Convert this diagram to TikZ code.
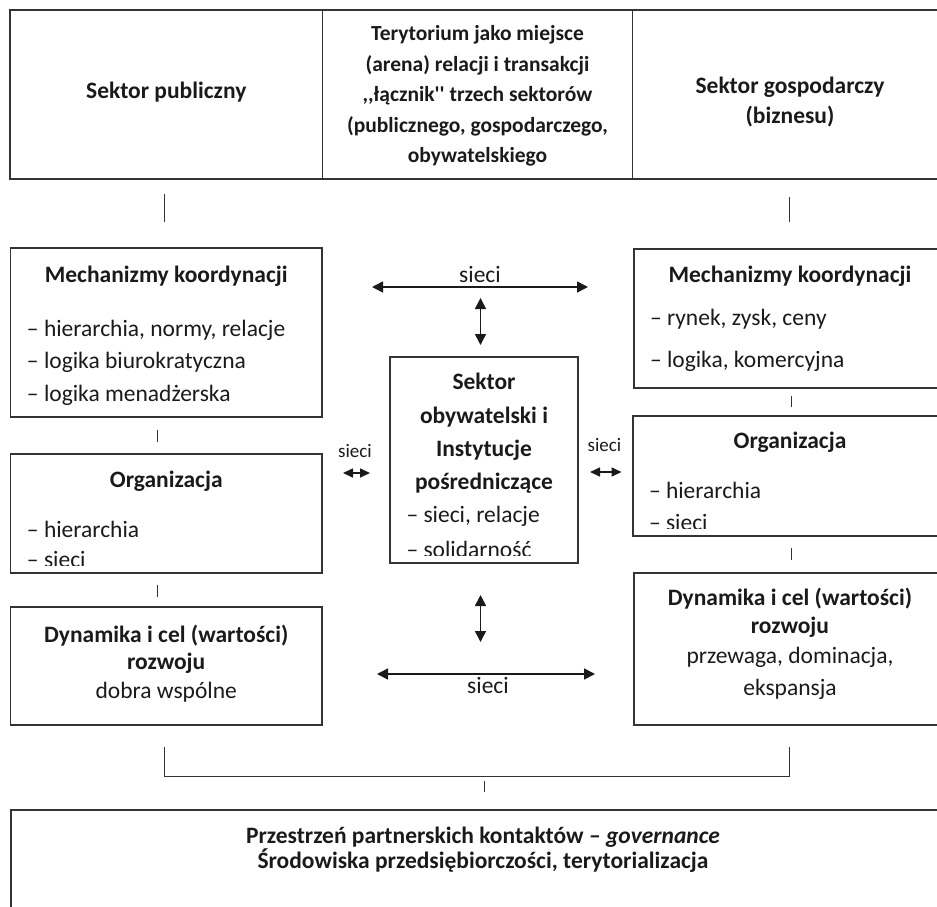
\documentclass[tikz,border=0pt]{standalone}
\usepackage{fontspec}
\setmainfont{Carlito}
\newfontfamily\rawfont{Carlito}
\usetikzlibrary{arrows.meta}
\definecolor{boxlinecolor}{rgb}{0.200000, 0.200000, 0.200000}
\definecolor{boxtextcolor}{rgb}{0.110000, 0.100000, 0.100000}
\newcommand{\txtsize}{\fontsize{23.5}{28}\selectfont}
\newcommand{\ctrsize}{\fontsize{21.5}{26}\selectfont}
\newcommand{\smlsize}{\fontsize{19}{22}\selectfont}

\begin{document}
\begin{tikzpicture}[x=1pt,y=-1pt,
  box/.style={draw=boxlinecolor,line width=1.2pt,inner sep=0pt,outer sep=0pt},
  lbl/.style={anchor=base,inner sep=0pt,outer sep=0pt,text=boxtextcolor,font=\txtsize},
  title/.style={lbl,font=\txtsize\bfseries},
  item/.style={lbl,anchor=base west},
  tick/.style={draw=boxlinecolor,line width=1pt},
  link/.style={draw=boxtextcolor,line width=1.6pt,{Triangle[length=11pt,width=11pt]}-{Triangle[length=11pt,width=11pt]}},
  shortlink/.style={draw=boxtextcolor,line width=1.6pt,{Triangle[length=10pt,width=9pt]}-{Triangle[length=10pt,width=9pt]}}]
\useasboundingbox (0,0) rectangle (937,907);

% top band: three sectors
\node[box,minimum width=312.5pt,minimum height=169pt] (tpub) at (166.25,94.5) {};
\node[box,minimum width=310pt,minimum height=169pt] (tter) at (477.5,94.5) {};
\node[box,minimum width=314.5pt,minimum height=169pt] (tgos) at (789.75,94.5) {};
\node[title] (tpub1) at (166.25,98) {Sektor publiczny};
\node[title,font=\ctrsize\bfseries] (tter1) at (477.5,40.5) {Terytorium jako miejsce};
\node[title,font=\ctrsize\bfseries] (tter2) at (477.5,71) {(arena) relacji i transakcji};
\node[title,font=\ctrsize\bfseries] (tter3) at (477.5,101.5) {\rawfont ,,łącznik'' trzech sektorów};
\node[title,font=\ctrsize\bfseries] (tter4) at (477.5,132) {(publicznego, gospodarczego,};
\node[title,font=\ctrsize\bfseries] (tter5) at (477.5,162.5) {obywatelskiego};
\node[title] (tgos1) at (790,93) {Sektor gospodarczy};
\node[title] (tgos2) at (790,123) {(biznesu)};

% left column
\node[box,minimum width=311.5pt,minimum height=169pt] (lmech) at (166.25,332.5) {};
\node[box,minimum width=311.5pt,minimum height=119pt] (lorg) at (166.25,513.5) {};
\node[box,minimum width=311.5pt,minimum height=118pt] (ldyn) at (166.25,666) {};
\node[title] (lmech1) at (166.25,282) {Mechanizmy koordynacji};
\node[item] (lmech2) at (27,336) {– hierarchia, normy, relacje};
\node[item] (lmech3) at (27,368) {– logika biurokratyczna};
\node[item] (lmech4) at (27,401) {– logika menadżerska};
\node[title] (lorg1) at (166.25,487) {Organizacja};
\begin{scope}
\clip (lorg.north west) rectangle ([yshift=8pt]lorg.south east);
\node[item] (lorg2) at (27,537) {– hierarchia};
\node[item] (lorg3) at (27,567) {– sieci};
\end{scope}
\node[title] (ldyn1) at (166.25,642) {Dynamika i cel (wartości)};
\node[title] (ldyn2) at (166.25,669) {rozwoju};
\node[lbl] (ldyn3) at (166.25,698) {dobra wspólne};

% right column
\node[box,minimum width=313pt,minimum height=139pt] (rmech) at (790.5,318.5) {};
\node[box,minimum width=314pt,minimum height=120pt] (rorg) at (790,476) {};
\node[box,minimum width=313pt,minimum height=152pt] (rdyn) at (790.5,649) {};
\node[title] (rmech1) at (790,282) {Mechanizmy koordynacji};
\node[item] (rmech2) at (650,325) {– rynek, zysk, ceny};
\node[item] (rmech3) at (650,367) {– logika, komercyjna};
\node[title] (rorg1) at (790,448) {Organizacja};
\begin{scope}
\clip (rorg.north west) rectangle ([yshift=8pt]rorg.south east);
\node[item] (rorg2) at (649,498) {– hierarchia};
\node[item] (rorg3) at (649,530) {– sieci};
\end{scope}
\node[title] (rdyn1) at (790,605) {Dynamika i cel (wartości)};
\node[title] (rdyn2) at (790,633) {rozwoju};
\node[lbl] (rdyn3) at (790,663) {przewaga, dominacja,};
\node[lbl] (rdyn4) at (790,695) {ekspansja};

% civic sector in the middle
\node[box,minimum width=188pt,minimum height=206pt] (csek) at (484,460) {};
\node[title] (csek1) at (484,389) {Sektor};
\node[title] (csek2) at (484,423) {obywatelski i};
\node[title] (csek3) at (484,456) {Instytucje};
\node[title] (csek4) at (484,489) {pośredniczące};
\begin{scope}
\clip (csek.north west) rectangle ([yshift=8pt]csek.south east);
\node[item] (csek5) at (406.5,522) {– sieci, relacje};
\node[item] (csek6) at (406.5,557) {– solidarność};
\end{scope}

% bottom band
\node[box,minimum width=944pt,minimum height=120pt] (bprz) at (483,870) {};
\node[title] (bprz1) at (483,843) {Przestrzeń partnerskich kontaktów – \textit{governance}};
\node[title] (bprz2) at (483,868) {Środowiska przedsiębiorczości, terytorializacja};

% ticks between boxes
\coordinate (tk1a) at (164,194); \coordinate (tk1b) at (164,222);
\coordinate (tk2a) at (789,197); \coordinate (tk2b) at (789,222);
\coordinate (tk3a) at (157,430); \coordinate (tk3b) at (157,442);
\coordinate (tk4a) at (157,585); \coordinate (tk4b) at (157,597);
\coordinate (tk5a) at (791,396); \coordinate (tk5b) at (791,407);
\coordinate (tk6a) at (791,548); \coordinate (tk6b) at (791,560);
\coordinate (tk7a) at (484,781); \coordinate (tk7b) at (484,792);
\draw[tick] (tk1a) -- (tk1b);
\draw[tick] (tk2a) -- (tk2b);
\draw[tick] (tk3a) -- (tk3b);
\draw[tick] (tk4a) -- (tk4b);
\draw[tick] (tk5a) -- (tk5b);
\draw[tick] (tk6a) -- (tk6b);
\draw[tick] (tk7a) -- (tk7b);
% bracket over the bottom band
\coordinate (brL) at (164,747); \coordinate (brLb) at (164,776);
\coordinate (brR) at (789,747); \coordinate (brRb) at (789,776);
\draw[tick] (brL) -- (brLb) -- (brRb) -- (brR);

% networks (sieci)
\coordinate (nTopL) at (372,287); \coordinate (nTopR) at (588,287);
\coordinate (nUpT) at (480.5,298); \coordinate (nUpB) at (480.5,345);
\coordinate (nLowT) at (480.5,595); \coordinate (nLowB) at (480.5,642);
\coordinate (nBotL) at (377,674); \coordinate (nBotR) at (595,674);
\coordinate (nLeftL) at (343,473); \coordinate (nLeftR) at (370,473);
\coordinate (nRightL) at (590,472); \coordinate (nRightR) at (621.5,472);
\draw[link] (nTopL) -- (nTopR);
\draw[link] (nUpT) -- (nUpB);
\draw[link] (nLowT) -- (nLowB);
\draw[link] (nBotL) -- (nBotR);
\draw[shortlink] (nLeftL) -- (nLeftR);
\draw[shortlink] (nRightL) -- (nRightR);
\node[lbl] (nTop) at (480,282) {sieci};
\node[lbl] (nBot) at (488,693) {sieci};
\node[lbl,font=\smlsize] (nLeft) at (355,457) {sieci};
\node[lbl,font=\smlsize] (nRight) at (604.5,451) {sieci};
\end{tikzpicture}
\end{document}
